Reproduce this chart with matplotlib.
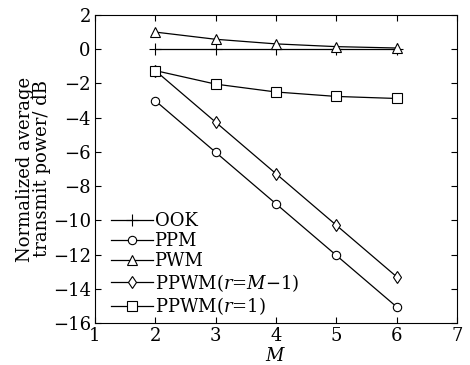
import numpy as np
import matplotlib.pyplot as plt

plt.rcParams['font.family'] = ['DejaVu Serif']
plt.rcParams['mathtext.fontset'] = 'dejavuserif'

M = [2, 3, 4, 5, 6]
ook = [0, 0, 0, 0, 0]
ppm = [-3.01, -6.02, -9.03, -12.04, -15.05]
pwm = [1.0, 0.58, 0.31, 0.15, 0.07]
ppwm_rm1 = [-1.25, -4.26, -7.27, -10.28, -13.29]
ppwm_r1 = [-1.25, -2.04, -2.5, -2.76, -2.88]

fig = plt.figure(figsize=(4.7, 3.65), dpi=100)
ax = fig.add_axes([0.202, 0.115, 0.77, 0.844])

kw = dict(color='black', lw=0.9, markerfacecolor='white', markeredgecolor='black',
          markeredgewidth=0.8)
ax.plot(M, ook, marker='+', markersize=9, label='OOK', **kw)
ax.plot(M, ppm, marker='o', markersize=6, label='PPM', **kw)
ax.plot(M, pwm, marker='^', markersize=7, label='PWM', **kw)
ax.plot(M, ppwm_rm1, marker='d', markersize=6, label=r'PPWM($r$=$M$$-$1)', **kw)
ax.plot(M, ppwm_r1, marker='s', markersize=6.5, label=r'PPWM($r$=1)', **kw)

ax.set_xlim(1, 7)
ax.set_ylim(-16, 2)
ax.set_xticks(range(1, 8))
ax.set_yticks(range(-16, 3, 2))
ax.set_yticklabels(['\u2212%d' % -v if v < 0 else str(v) for v in range(-16, 3, 2)])
ax.tick_params(direction='in', top=True, right=True, labelsize=13, length=4, pad=3)
ax.set_xlabel(r'$M$', fontsize=13, labelpad=1)
ax.set_ylabel('Normalized average\ntransmit power/ dB', fontsize=13, linespacing=0.95, labelpad=1)

ax.legend(loc='lower left', frameon=False, fontsize=13, handlelength=2.3, handletextpad=0.1,
          labelspacing=0.1, borderaxespad=0.0, bbox_to_anchor=(0.025, -0.005))

fig.savefig('out.png', dpi=100)
